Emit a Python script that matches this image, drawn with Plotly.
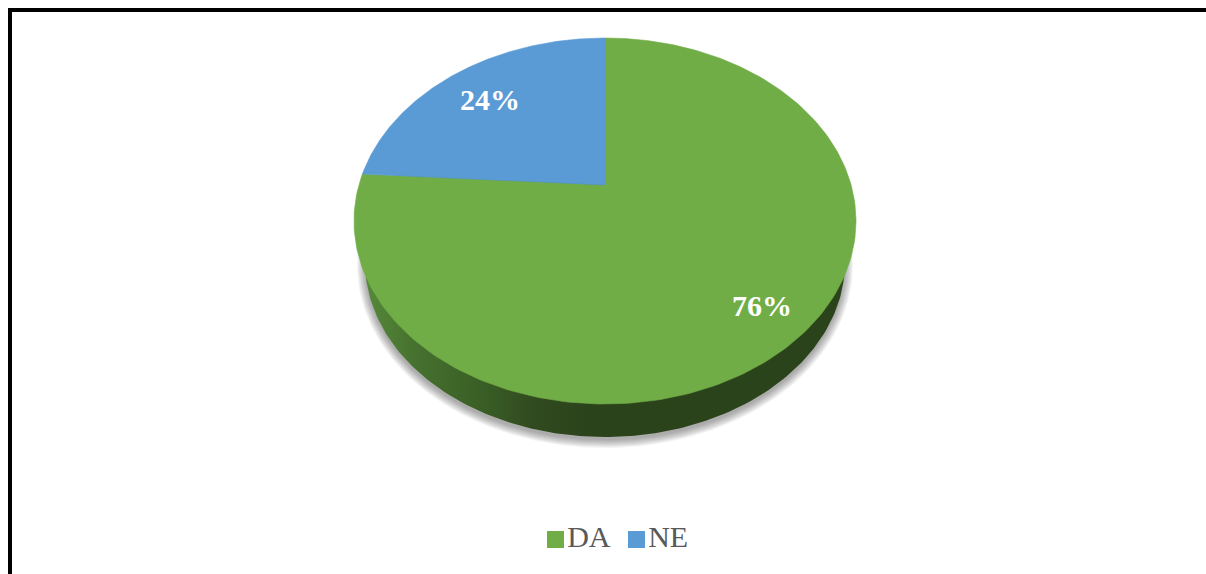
import numpy as np
import plotly.graph_objects as go

categories = ["DA", "NE"]
shares = [76, 24]
colors = ["#70AD47", "#5B9BD5"]

W, H = 1206, 574
CX, CY, RX, RY = 605, 221, 251, 183      # top face
BCY, BRX, BRY = 262, 240, 175            # lower rim of the disc
TILT = 0.197                              # perspective shift of the pie centre


def project(theta):
    """Angle measured from 12 o'clock, counter-clockwise, to picture position."""
    x, y = -np.sin(theta), np.cos(theta)
    d = 1 + TILT * y
    return CX + RX * x * np.sqrt(1 - TILT ** 2) / d, CY - RY * (y + TILT) / d


def wedge(f0, f1):
    t = np.linspace(f0, f1, 240) * 2 * np.pi
    x, y = project(t)
    ax, ay = project(np.array([0.0]))[0], CY - RY * TILT
    return np.r_[ax, x, ax], np.r_[ay, y, ay]


def ellipse(cy, rx, ry):
    t = np.linspace(0, 2 * np.pi, 361)
    return CX + rx * np.cos(t), cy + ry * np.sin(t)


fig = go.Figure()

# soft shadow
for k in np.arange(8, -1, -1):
    x, y = ellipse(BCY + 3, BRX + k, BRY + k)
    fig.add_trace(go.Scatter(x=x, y=y, mode="lines", fill="toself", line=dict(width=0),
                             fillcolor="rgba(60,60,60,0.055)", hoverinfo="skip", showlegend=False))

# side wall
x, y = ellipse(BCY, BRX, BRY)
fig.add_trace(go.Scatter(
    x=x, y=y, mode="lines", line=dict(width=0), hoverinfo="skip", showlegend=False, fill="toself",
    fillgradient=dict(type="horizontal", start=365, stop=845, colorscale=[
        [0.0, "#56883A"], [0.11, "#45702E"], [0.24, "#3A5F26"], [0.36, "#30491E"],
        [0.48, "#2B431B"], [1.0, "#2B431B"]])))

# top face: blue slice runs counter-clockwise from 12 o'clock
total = sum(shares)
ne = shares[1] / total
for name, col, (f0, f1) in zip(categories, colors, [(ne, 1.0), (0.0, ne)]):
    x, y = wedge(f0, f1)
    fig.add_trace(go.Scatter(x=x, y=y, mode="lines", fill="toself", line=dict(width=0.6, color=col),
                             fillcolor=col, name=name, hoverinfo="name", showlegend=False))

# percentage labels
fig.add_trace(go.Scatter(
    x=[762, 490], y=[308, 102], mode="text", text=[f"{v}%" for v in shares],
    textfont=dict(family="Liberation Serif", size=30, color="white", weight="bold"),
    textposition="middle center", hoverinfo="skip", showlegend=False))

# legend row
for name, col, mx in zip(categories, colors, [555.5, 636.5]):
    fig.add_trace(go.Scatter(
        x=[mx], y=[539.5], mode="markers+text", text=[name], textposition="middle right",
        marker=dict(symbol="square", size=17, color=col, line=dict(width=0)),
        textfont=dict(family="Liberation Serif", size=30, color="#595959"),
        hoverinfo="skip", showlegend=False))

fig.update_layout(
    width=W, height=H, margin=dict(l=0, r=0, t=0, b=0),
    paper_bgcolor="white", plot_bgcolor="white",
    xaxis=dict(range=[0, W], visible=False, fixedrange=True),
    yaxis=dict(range=[H, 0], visible=False, fixedrange=True),
    shapes=[
        dict(type="rect", xref="paper", yref="paper", x0=8 / W, x1=12 / W, y0=0, y1=1 - 8 / H,
             fillcolor="black", line_width=0, layer="below"),
        dict(type="rect", xref="paper", yref="paper", x0=8 / W, x1=1, y0=1 - 12 / H, y1=1 - 8 / H,
             fillcolor="black", line_width=0, layer="below"),
    ],
)
fig.write_html("out.html", config={"displayModeBar": False},
               post_script="document.body.style.margin='0';document.body.style.overflow='hidden';")
